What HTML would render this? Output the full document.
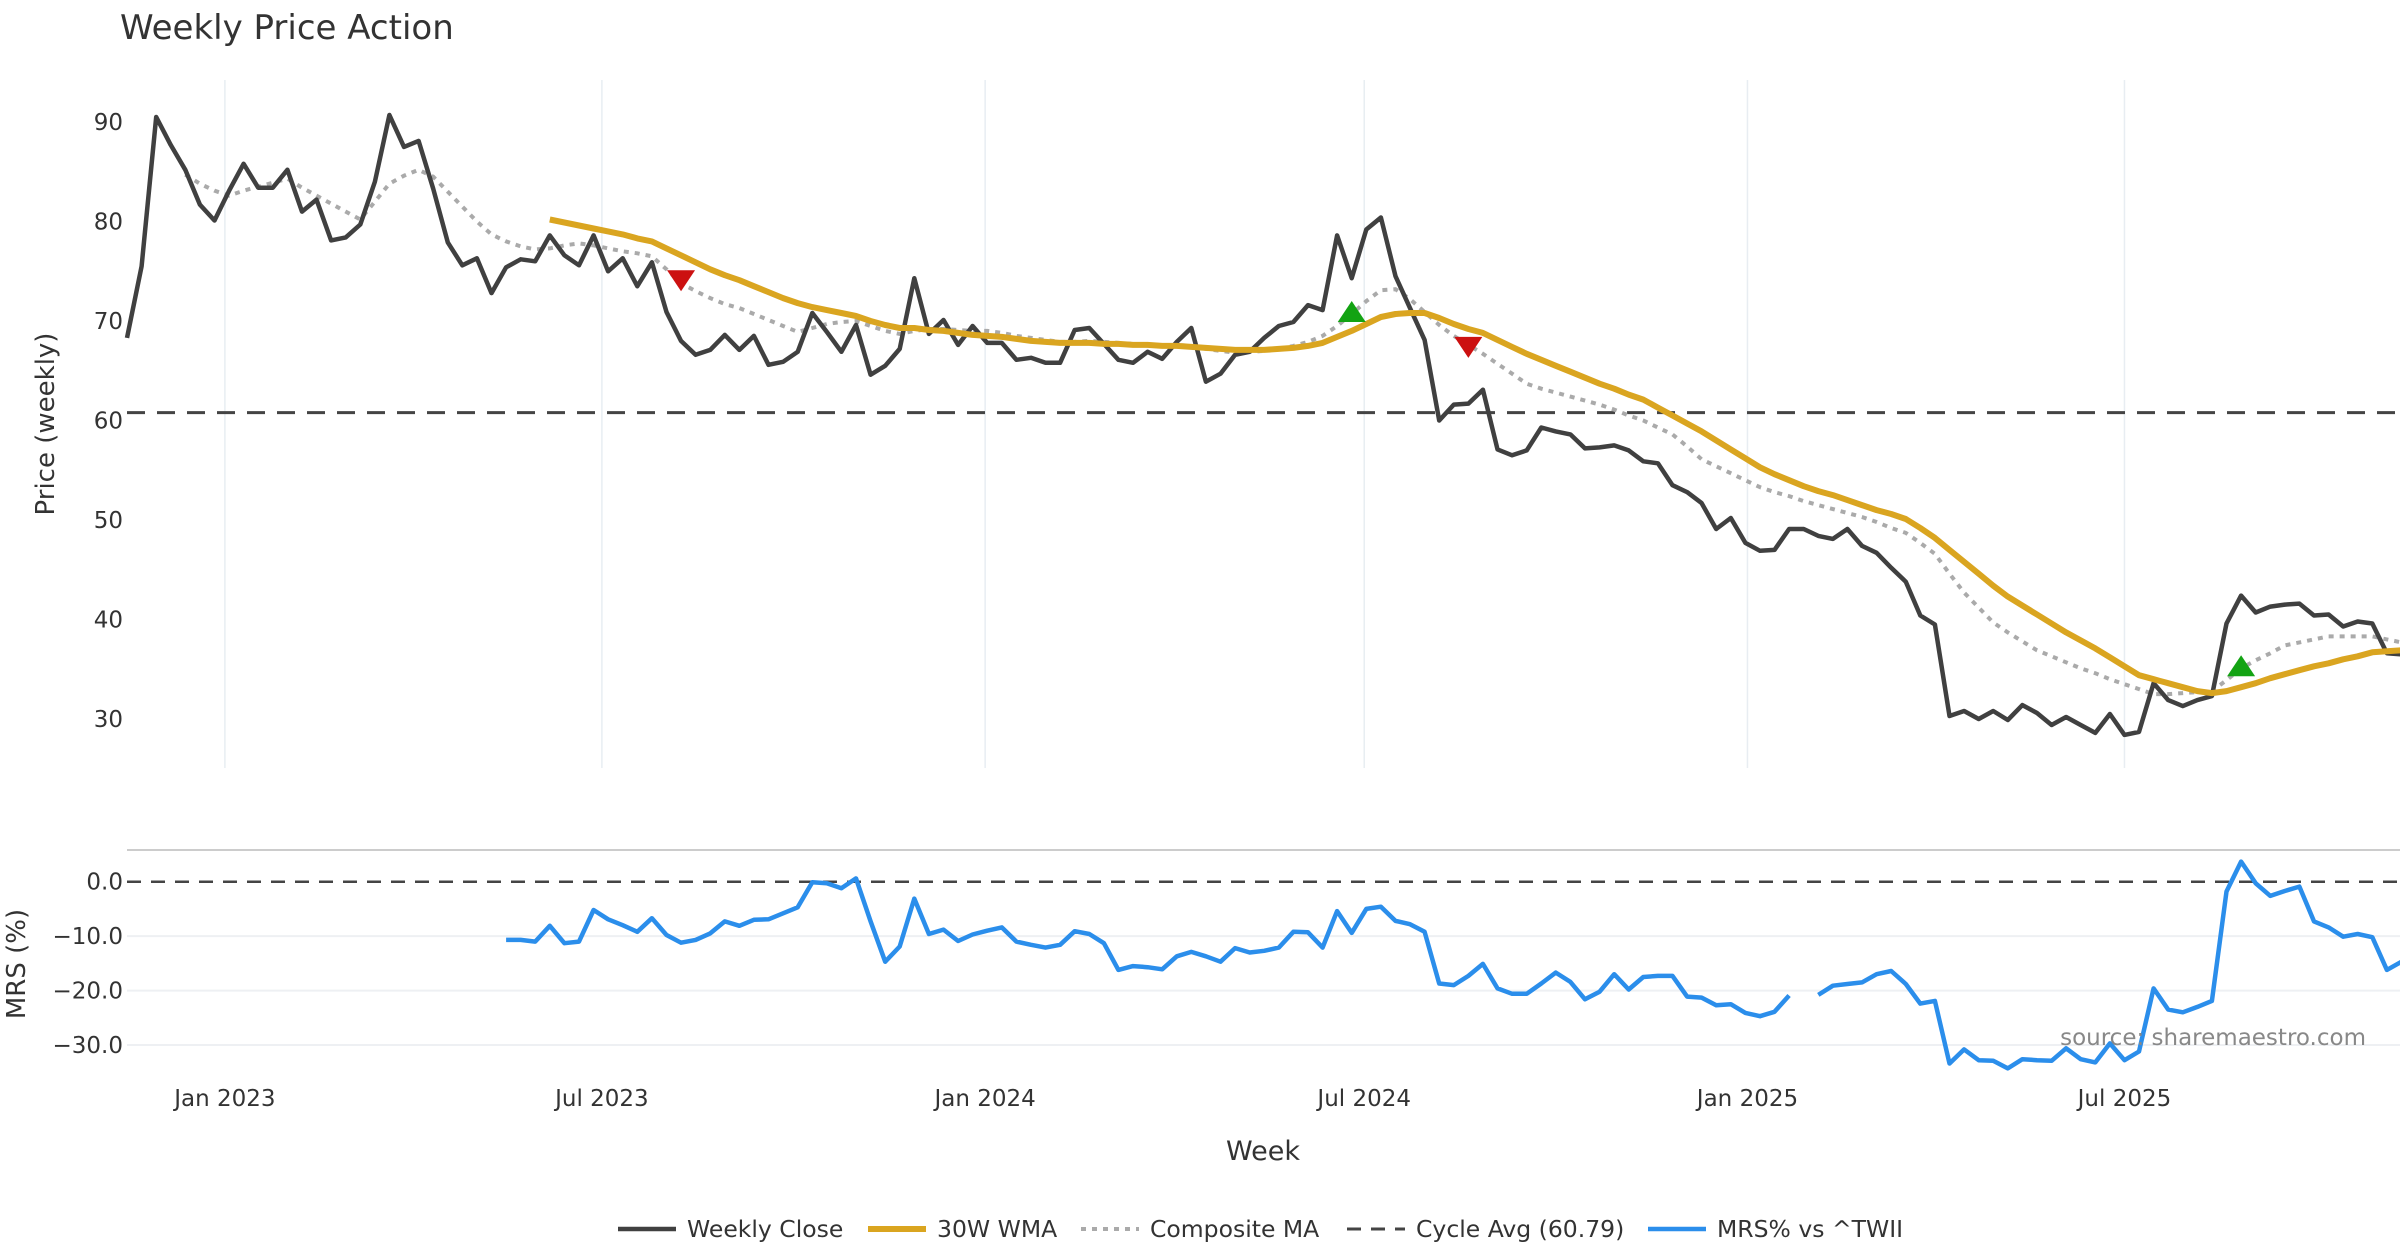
<!DOCTYPE html>
<html><head><meta charset="utf-8">
<style>
html,body{margin:0;padding:0;background:#fff;}
svg{display:block;font-family:"DejaVu Sans","Liberation Sans",sans-serif;}
</style></head>
<body>
<svg id="chart" width="2400" height="1260" viewBox="0 0 2400 1260" xmlns="http://www.w3.org/2000/svg">
<rect width="2400" height="1260" fill="#fff"/>
<text x="120" y="39" font-size="34" fill="#333">Weekly Price Action</text>
<g id="grid"></g>
<g id="series"></g>
<g id="axes"></g>
<text transform="translate(54,424) rotate(-90)" text-anchor="middle" font-size="26" fill="#333">Price (weekly)</text>
<text transform="translate(25,964) rotate(-90)" text-anchor="middle" font-size="26" fill="#333">MRS (%)</text>
<text x="1263" y="1160" text-anchor="middle" font-size="27" fill="#333">Week</text>
<text x="2366" y="1045" text-anchor="end" font-size="23" fill="#888">source: sharemaestro.com</text>
<g id="legend"></g>
</svg>
<script>
const weekStart = "2022-11-15";
const closeVals = [68.3,75.5,90.5,87.7,85.2,81.7,80.1,83.1,85.8,83.4,83.4,85.2,81.0,82.2,78.1,78.4,79.7,84.0,90.7,87.5,88.1,83.3,77.9,75.6,76.3,72.8,75.4,76.2,76.0,78.6,76.6,75.6,78.6,75.0,76.3,73.5,75.9,70.9,68.0,66.6,67.1,68.6,67.1,68.5,65.6,65.9,66.9,70.8,68.9,66.9,69.6,64.6,65.5,67.2,74.3,68.7,70.1,67.6,69.5,67.8,67.8,66.1,66.3,65.8,65.8,69.1,69.3,67.7,66.1,65.8,66.9,66.2,67.9,69.3,63.9,64.7,66.6,66.9,68.3,69.5,69.9,71.6,71.1,78.6,74.3,79.2,80.4,74.5,71.3,68.1,60.0,61.6,61.7,63.1,57.1,56.5,57.0,59.3,58.9,58.6,57.2,57.3,57.5,57.0,55.9,55.7,53.5,52.8,51.7,49.1,50.2,47.7,46.9,47.0,49.1,49.1,48.4,48.1,49.1,47.4,46.7,45.2,43.8,40.4,39.5,30.3,30.8,30.0,30.8,29.9,31.4,30.6,29.4,30.2,29.4,28.6,30.5,28.4,28.7,33.6,31.9,31.3,31.9,32.3,39.6,42.4,40.7,41.3,41.5,41.6,40.4,40.5,39.3,39.8,39.6,36.6,36.5];
const wmaStart = 29;
const wmaVals = [80.2,79.9,79.6,79.3,79.0,78.7,78.3,78.0,77.3,76.6,75.9,75.2,74.6,74.1,73.5,72.9,72.3,71.8,71.4,71.1,70.8,70.5,70.0,69.6,69.3,69.3,69.1,69.0,68.8,68.6,68.5,68.4,68.2,68.0,67.9,67.8,67.8,67.8,67.7,67.7,67.6,67.6,67.5,67.5,67.4,67.3,67.2,67.1,67.1,67.1,67.2,67.3,67.5,67.8,68.4,69.0,69.7,70.4,70.7,70.8,70.8,70.3,69.7,69.2,68.8,68.1,67.4,66.7,66.1,65.5,64.9,64.3,63.7,63.2,62.6,62.1,61.3,60.5,59.7,58.9,58.0,57.1,56.2,55.3,54.6,54.0,53.4,52.9,52.5,52.0,51.5,51.0,50.6,50.1,49.2,48.2,47.0,45.8,44.6,43.4,42.3,41.4,40.5,39.6,38.7,37.9,37.1,36.2,35.3,34.4,34.0,33.6,33.2,32.8,32.6,32.8,33.2,33.6,34.1,34.5,34.9,35.3,35.6,36.0,36.3,36.7,36.8,36.9];
const compStart = 4;
const compVals = [84.7,83.8,83.1,82.6,83.1,83.5,83.9,84.3,83.4,82.6,81.8,81.0,80.2,82.0,83.8,84.6,85.2,84.5,83.0,81.5,80.0,78.7,78.0,77.5,77.2,77.3,77.6,77.8,77.6,77.3,77.0,76.8,76.5,75.2,73.8,73.0,72.3,71.7,71.3,70.7,70.1,69.5,68.9,69.3,69.7,69.9,70.0,69.5,69.0,68.7,69.0,69.2,69.2,69.1,69.0,69.0,68.8,68.5,68.3,68.1,67.9,67.9,68.0,67.9,67.8,67.7,67.6,67.5,67.6,67.5,67.2,67.0,66.8,66.9,67.0,67.2,67.5,67.9,68.5,69.5,70.7,72.0,73.1,73.2,72.2,70.9,69.6,68.5,67.6,66.7,65.7,64.7,63.7,63.2,62.8,62.4,62.0,61.6,61.1,60.5,60.0,59.3,58.6,57.4,56.1,55.4,54.7,54.0,53.3,52.8,52.4,51.9,51.5,51.1,50.7,50.3,49.8,49.2,48.7,47.7,46.6,44.6,42.7,41.2,39.7,38.7,37.8,36.9,36.3,35.7,35.1,34.6,34.0,33.5,33.0,32.5,32.5,32.6,32.7,32.8,33.9,35.1,35.9,36.6,37.4,37.7,38.0,38.3,38.3,38.3,38.3,38.0,37.7];
const cycleAvg = 60.79;
const mrsStart = 26;
const mrsVals = [-10.7,-10.7,-11.0,-8.1,-11.3,-11.0,-5.2,-6.9,-8.0,-9.2,-6.7,-9.8,-11.2,-10.7,-9.5,-7.3,-8.1,-7.0,-6.9,-5.8,-4.7,-0.1,-0.3,-1.2,0.6,-7.3,-14.7,-11.9,-3.1,-9.6,-8.8,-10.9,-9.7,-9.0,-8.4,-11.0,-11.6,-12.1,-11.6,-9.1,-9.6,-11.3,-16.2,-15.5,-15.7,-16.1,-13.7,-12.9,
-13.7,-14.7,-12.2,-13.0,-12.7,-12.1,-9.2,-9.3,-12.1,-5.4,-9.4,-5.0,-4.6,-7.2,-7.8,-9.2,-18.7,-19.0,-17.3,-15.1,-19.6,-20.6,-20.6,-18.7,-16.7,-18.4,-21.6,-20.2,-17.0,-19.8,-17.5,-17.3,-17.3,-21.1,-21.3,-22.7,-22.5,-24.1,-24.7,-23.9,-20.9,null,-20.8,-19.1,-18.8,-18.5,-17.0,-16.4,-18.8,-22.4,-21.9,-33.4,-30.8,-32.8,-32.9,-34.3,-32.6,-32.8,-32.9,-30.6,-32.6,-33.2,-29.7,-32.8,-31.2,-19.6,-23.5,-24.0,-23.0,-21.9,-1.8,3.7,-0.3,-2.6,-1.7,-0.9,-7.3,-8.4,-10.1,-9.6,-10.2,-16.2,-14.7];
const buyIdx = [84,145];
const sellIdx = [38,92];
const markerVals = {84:70.9,145:35.3,38:74.1,92:67.4};
const priceTicks = [30,40,50,60,70,80,90];
const mrsTicks = [0,-10,-20,-30];
const mrsTickLabels = ["0.0","\u221210.0","\u221220.0","\u221230.0"];
const dateTicks = ["2023-01-01","2023-07-01","2024-01-01","2024-07-01","2025-01-01","2025-07-01"];
const dateTickLabels = ["Jan 2023","Jul 2023","Jan 2024","Jul 2024","Jan 2025","Jul 2025"];

const NS="http://www.w3.org/2000/svg";
const X0=127, STEP=14.58, RIGHT=2400;
function xIdx(i){return X0+i*STEP;}
function xDate(s){const d=(new Date(s+"T00:00:00Z")-new Date(weekStart+"T00:00:00Z"))/86400000;return xIdx(d/7);}
function yP(v){return 122+(90-v)*(719-122)/60;}
function yM(v){return 881.7+v*(1045-881.7)/(-30);}
function mk(tag,attrs,parent){const e=document.createElementNS(NS,tag);for(const k in attrs)e.setAttribute(k,attrs[k]);parent.appendChild(e);return e;}
const grid=document.getElementById('grid'),series=document.getElementById('series'),axes=document.getElementById('axes'),legend=document.getElementById('legend');

dateTicks.forEach((d,k)=>{
  const x=xDate(d);
  const g1=mk('line',{x1:x,x2:x,y1:80,y2:768,stroke:'#e8edf2','stroke-width':1.5},grid);
  
  
  const t=mk('text',{x:x,y:1106,'text-anchor':'middle','font-size':23,fill:'#333'},axes);
  t.textContent=dateTickLabels[k];
  
  
});
priceTicks.forEach(v=>{
  const t=mk('text',{x:123,y:yP(v)+8,'text-anchor':'end','font-size':23,fill:'#333'},axes);
  t.textContent=v;
  
  
});
const sep=mk('line',{x1:127,x2:RIGHT,y1:850,y2:850,stroke:'#ccc','stroke-width':2},grid);


mrsTicks.forEach((v,k)=>{
  const y=yM(v);
  if(v!==0){const g=mk('line',{x1:127,x2:RIGHT,y1:y,y2:y,stroke:'#eef0f3','stroke-width':2},grid);
  
  }
  const t=mk('text',{x:123,y:y+8,'text-anchor':'end','font-size':23,fill:'#333'},axes);
  t.textContent=mrsTickLabels[k];
  
  
});
const zl=mk('line',{x1:127,x2:RIGHT,y1:yM(0),y2:yM(0),stroke:'#444','stroke-width':2.5,'stroke-dasharray':'14 10'},grid);



function pathFrom(vals,start,yf){
  let d='',pen=false;
  vals.forEach((v,k)=>{ if(v===null){pen=false;return;} const x=xIdx(start+k),y=yf(v); d+=(pen?'L':'M')+x.toFixed(1)+' '+y.toFixed(1)+' '; pen=true;});
  return d;
}
const cyc=mk('line',{x1:127,x2:RIGHT,y1:yP(cycleAvg),y2:yP(cycleAvg),stroke:'#444','stroke-width':3,'stroke-dasharray':'18 12'},series);


const pc=mk('path',{d:pathFrom(compVals,compStart,yP),fill:'none',stroke:'#aaa','stroke-width':4,'stroke-dasharray':'5 6'},series);


const pcl=mk('path',{d:pathFrom(closeVals,0,yP),fill:'none',stroke:'#404040','stroke-width':4.5,'stroke-linejoin':'round'},series);


const pw=mk('path',{d:pathFrom(wmaVals,wmaStart,yP),fill:'none',stroke:'#DAA520','stroke-width':6,'stroke-linejoin':'round'},series);


const pm=mk('path',{d:pathFrom(mrsVals,mrsStart,yM),fill:'none',stroke:'#2B8EEB','stroke-width':4.5,'stroke-linejoin':'round'},series);


buyIdx.forEach(i=>{
  const x=xIdx(i),y=yP(markerVals[i]);
  const t=mk('polygon',{points:`${x-14},${y+10} ${x+14},${y+10} ${x},${y-11}`,fill:'#13A313'},series);
  
  
});
sellIdx.forEach(i=>{
  const x=xIdx(i),y=yP(markerVals[i]);
  const t=mk('polygon',{points:`${x-14},${y-10} ${x+14},${y-10} ${x},${y+11}`,fill:'#CC1111'},series);
  
  
});
const legItems=[
 {x:618,label:'Weekly Close',stroke:'#404040',dash:'',w:4.5,name:'legend-weekly-close'},
 {x:868,label:'30W WMA',stroke:'#DAA520',dash:'',w:6,name:'legend-wma'},
 {x:1081,label:'Composite MA',stroke:'#aaa',dash:'5 6',w:4,name:'legend-composite-ma'},
 {x:1347,label:'Cycle Avg (60.79)',stroke:'#444',dash:'14 10',w:3,name:'legend-cycle-avg'},
 {x:1648,label:'MRS% vs ^TWII',stroke:'#2B8EEB',dash:'',w:4.5,name:'legend-mrs'}
];
legItems.forEach(it=>{
  const g=mk('g',{},legend);
  
  
  mk('line',{x1:it.x,x2:it.x+58,y1:1229,y2:1229,stroke:it.stroke,'stroke-width':it.w,'stroke-dasharray':it.dash},g);
  const t=mk('text',{x:it.x+69,y:1237,'font-size':23.5,fill:'#333'},g);
  t.textContent=it.label;
});
</script>
</body></html>
